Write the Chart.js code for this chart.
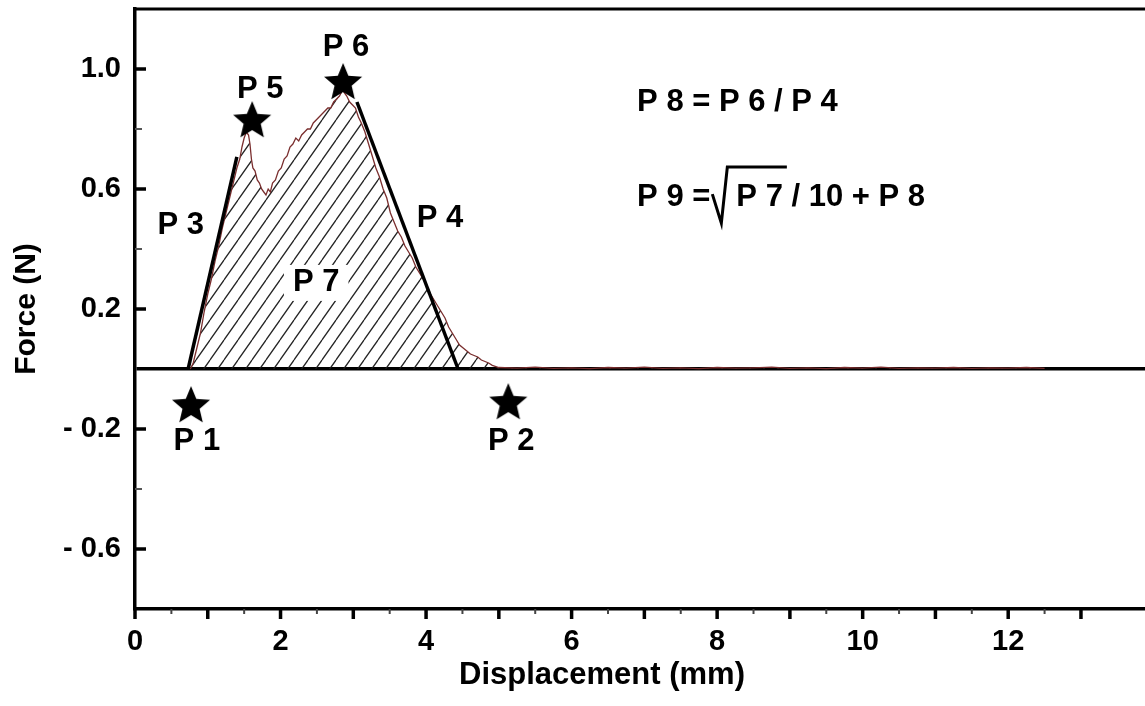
<!DOCTYPE html>
<html>
<head>
<meta charset="utf-8">
<script src="https://cdn.jsdelivr.net/npm/chart.js@4.4.0/dist/chart.umd.min.js"></script>
<style>
html, body { margin: 0; padding: 0; background: #fff; overflow: hidden; }
canvas { display: block; }
</style>
</head>
<body>
<canvas id="forceChart" width="1145" height="706"></canvas>
<script>
// measured force-displacement curve
var displacement = [0.76, 0.80, 0.85, 0.90, 0.95, 1.00, 1.05, 1.10, 1.15, 1.20, 1.25, 1.30, 1.35, 1.40, 1.44, 1.47, 1.50, 1.53, 1.56, 1.58,
  1.60, 1.62, 1.65, 1.68, 1.71, 1.74, 1.77, 1.80, 1.83, 1.86, 1.89, 1.93, 1.97, 2.01, 2.05, 2.09, 2.13, 2.17, 2.21, 2.25,
  2.29, 2.33, 2.37, 2.41, 2.45, 2.49, 2.53, 2.57, 2.61, 2.65, 2.69, 2.73, 2.77, 2.81, 2.85, 2.88, 2.91, 2.95, 2.99, 3.03,
  3.07, 3.11, 3.16, 3.21, 3.26, 3.31, 3.36, 3.41, 3.46, 3.51, 3.56, 3.61, 3.66, 3.71, 3.76, 3.81, 3.86, 3.91, 3.96, 4.01,
  4.06, 4.11, 4.16, 4.21, 4.26, 4.31, 4.36, 4.41, 4.46, 4.51, 4.56, 4.61, 4.66, 4.71, 4.76, 4.81, 4.86, 4.91, 4.96, 5.00,
  5.25, 5.50, 5.75, 6.00, 6.25, 6.50, 6.75, 7.00, 7.25, 7.50, 7.75, 8.00, 8.25, 8.50, 8.75, 9.00, 9.25, 9.50, 9.75, 10.00,
  10.25, 10.50, 10.75, 11.00, 11.25, 11.50, 11.75, 12.00, 12.25, 12.50];
var force = [0.00, 0.02, 0.07, 0.12, 0.19, 0.25, 0.30, 0.36, 0.41, 0.47, 0.52, 0.57, 0.62, 0.67, 0.70, 0.74, 0.77, 0.79, 0.78, 0.75,
  0.70, 0.67, 0.66, 0.63, 0.62, 0.60, 0.59, 0.58, 0.60, 0.59, 0.62, 0.63, 0.66, 0.67, 0.70, 0.71, 0.74, 0.75, 0.77, 0.76,
  0.78, 0.79, 0.80, 0.80, 0.82, 0.83, 0.84, 0.85, 0.86, 0.87, 0.87, 0.89, 0.90, 0.91, 0.93, 0.92, 0.91, 0.89, 0.88, 0.87,
  0.84, 0.82, 0.79, 0.75, 0.71, 0.67, 0.64, 0.60, 0.57, 0.52, 0.49, 0.46, 0.44, 0.41, 0.39, 0.37, 0.34, 0.32, 0.30, 0.28,
  0.25, 0.23, 0.21, 0.19, 0.17, 0.14, 0.12, 0.10, 0.08, 0.07, 0.06, 0.05, 0.045, 0.04, 0.03, 0.025, 0.02, 0.012, 0.008, 0.005,
  0.003, 0.006, 0.002, 0.004, 0.001, 0.005, 0.003, 0.006, 0.002, 0.004, 0.001, 0.005, 0.003, 0.004, 0.006, 0.002, 0.004, 0.001, 0.005, 0.003,
  0.006, 0.002, 0.004, 0.003, 0.005, 0.002, 0.004, 0.003, 0.005, 0.002];

// tangent lines P3 and P4
var p3X = [0.73, 1.40];
var p3Y = [0.00, 0.707];
var p4X = [3.05, 4.44];
var p4Y = [0.89, 0.00];

// star markers P1, P2, P5, P6
var starX = [0.77, 5.13, 1.61, 2.86];
var starY = [-0.117, -0.107, 0.833, 0.96];

// point labels
var labelText = ['P 1', 'P 2', 'P 3', 'P 4', 'P 5', 'P 6', 'P 7'];
var labelX = [0.85, 5.17, 0.63, 4.19, 1.72, 2.90, 2.49];
var labelY = [-0.243, -0.243, 0.477, 0.503, 0.933, 1.073, 0.287];

var xTickLabels = [0, 2, 4, 6, 8, 10, 12];
var yTickLabels = [1.0, 0.6, 0.2, -0.2, -0.6];

var FAMILY = '"Liberation Sans", Arial, sans-serif';
var FONT = 'bold 31px ' + FAMILY;

function toPoints(xs, ys) {
  return xs.map(function(x, i) { return { x: x, y: ys[i] }; });
}

function makeHatch() {
  var w = 14, h = 20;
  var c = document.createElement('canvas');
  c.width = w; c.height = h;
  var g = c.getContext('2d');
  g.strokeStyle = 'rgba(25,25,25,0.95)';
  g.lineWidth = 1.3;
  g.beginPath();
  g.moveTo(0, h); g.lineTo(w, 0);
  g.moveTo(-w, h); g.lineTo(0, 0);
  g.moveTo(w, h); g.lineTo(2 * w, 0);
  g.stroke();
  return g.createPattern(c, 'repeat');
}

function makeStar(r) {
  var s = Math.ceil(r * 2 + 2);
  var c = document.createElement('canvas');
  c.width = s; c.height = s;
  var g = c.getContext('2d');
  var cx = s / 2, cy = s / 2 + r * 0.1;
  g.beginPath();
  for (var i = 0; i < 10; i++) {
    var rad = i % 2 === 0 ? r : r * 0.45;
    var a = -Math.PI / 2 + i * Math.PI / 5;
    var px = cx + rad * Math.cos(a), py = cy + rad * Math.sin(a);
    if (i === 0) g.moveTo(px, py); else g.lineTo(px, py);
  }
  g.closePath();
  g.fillStyle = '#000';
  g.fill();
  return c;
}

var extras = {
  id: 'extras',
  afterDatasetsDraw: function(chart) {
    var ctx = chart.ctx, xs = chart.scales.x, ys = chart.scales.y, area = chart.chartArea;
    ctx.save();
    ctx.strokeStyle = '#000';
    ctx.lineCap = 'butt';
    // x ticks, outside
    xs.ticks.forEach(function(t) {
      var v = t.value;
      if (Math.abs(v * 2 - Math.round(v * 2)) > 1e-6) return;
      var major = Math.abs(v - Math.round(v)) < 1e-6;
      var px = xs.getPixelForValue(v);
      ctx.lineWidth = major ? 3.5 : 2;
      ctx.strokeStyle = major ? '#000' : '#444';
      ctx.beginPath(); ctx.moveTo(px, area.bottom); ctx.lineTo(px, area.bottom + (major ? 10 : 5)); ctx.stroke();
    });
    // y ticks, inside
    ys.ticks.forEach(function(t) {
      var v = Math.round(t.value * 10) / 10;
      if (v <= ys.min || v >= ys.max || v === 0) return;
      var major = yTickLabels.indexOf(v) >= 0;
      var py = ys.getPixelForValue(v);
      ctx.lineWidth = major ? 3.5 : 2;
      ctx.strokeStyle = major ? '#000' : '#555';
      ctx.beginPath(); ctx.moveTo(area.left, py); ctx.lineTo(area.left + (major ? 11 : 7), py); ctx.stroke();
    });
    // top frame
    ctx.strokeStyle = '#000';
    ctx.lineWidth = 3;
    ctx.beginPath(); ctx.moveTo(area.left, area.top); ctx.lineTo(area.right, area.top); ctx.stroke();

    // point labels
    ctx.font = FONT;
    ctx.textAlign = 'center';
    ctx.textBaseline = 'middle';
    labelText.forEach(function(txt, i) {
      var px = xs.getPixelForValue(labelX[i]), py = ys.getPixelForValue(labelY[i]);
      if (txt === 'P 7') {
        var w = ctx.measureText(txt).width;
        ctx.fillStyle = '#fff';
        ctx.fillRect(px - w / 2 - 9, py - 18, w + 18, 36);
      }
      ctx.fillStyle = '#000';
      ctx.fillText(txt, px, py);
    });

    // formulas
    ctx.textAlign = 'left';
    var fx = xs.getPixelForValue(6.9);
    var f1y = ys.getPixelForValue(0.887);
    var f2y = ys.getPixelForValue(0.573);
    ctx.fillText('P 8 = P 6 / P 4', fx, f1y);
    var head = 'P 9 =';
    ctx.fillText(head, fx, f2y);
    var rx = fx + ctx.measureText(head).width + 2;
    var overW = ctx.measureText('P 7').width + 6;
    ctx.lineWidth = 3;
    ctx.lineJoin = 'miter';
    ctx.beginPath();
    ctx.moveTo(rx, f2y - 3);
    ctx.lineTo(rx + 9, f2y + 26);
    ctx.lineTo(rx + 15, f2y - 30);
    ctx.lineTo(rx + 22 + overW, f2y - 30);
    ctx.stroke();
    ctx.fillText('P 7 / 10 + P 8', rx + 24, f2y);

    // x axis title
    ctx.textAlign = 'center';
    ctx.textBaseline = 'alphabetic';
    ctx.fillText('Displacement (mm)', 602, 684);
    ctx.restore();
  }
};

var ctx = document.getElementById('forceChart');
new Chart(ctx, {
  type: 'line',
  data: {
    datasets: [{
      label: 'stars',
      data: toPoints(starX, starY),
      showLine: false,
      pointStyle: makeStar(20),
      pointRadius: 20,
      order: 0
    }, {
      label: 'P3',
      data: toPoints(p3X, p3Y),
      borderColor: '#000',
      borderWidth: 3.5,
      pointRadius: 0,
      fill: false,
      order: 1
    }, {
      label: 'P4',
      data: toPoints(p4X, p4Y),
      borderColor: '#000',
      borderWidth: 3.5,
      pointRadius: 0,
      fill: false,
      order: 1
    }, {
      label: 'force',
      data: toPoints(displacement, force),
      borderColor: '#7a2e2e',
      borderWidth: 1.3,
      pointRadius: 0,
      tension: 0,
      fill: 'origin',
      backgroundColor: makeHatch(),
      order: 2
    }]
  },
  options: {
    responsive: false,
    animation: false,
    layout: { autoPadding: false, padding: { top: 9, right: 0, left: 0, bottom: 0 } },
    plugins: {
      legend: { display: false },
      tooltip: { enabled: false }
    },
    scales: {
      x: {
        type: 'linear',
        min: 0,
        max: 13.88,
        afterFit: function(scale) {
          scale.height = 97;
          scale.paddingLeft = 0;
          scale.paddingRight = 0;
        },
        border: { color: '#000', width: 3.5 },
        grid: { display: true, drawOnChartArea: false, drawTicks: false },
        ticks: {
          stepSize: 0.5,
          autoSkip: false,
          maxRotation: 0,
          padding: 16,
          color: '#000',
          font: { family: FAMILY, size: 29, weight: 'bold' },
          callback: function(v) { return xTickLabels.indexOf(v) >= 0 ? String(v) : ''; }
        }
      },
      y: {
        min: -0.8,
        max: 1.2,
        afterFit: function(scale) {
          scale.width = 135;
          scale.paddingTop = 0;
          scale.paddingBottom = 0;
        },
        border: { color: '#000', width: 3.5 },
        grid: {
          drawTicks: false,
          color: function(c) { return c.tick && Math.abs(c.tick.value) < 1e-9 ? '#000' : 'rgba(0,0,0,0)'; },
          lineWidth: function(c) { return c.tick && Math.abs(c.tick.value) < 1e-9 ? 3.5 : 0; }
        },
        title: {
          display: true,
          text: 'Force (N)',
          color: '#000',
          padding: { top: 9, bottom: 0 },
          font: { family: FAMILY, size: 30, weight: 'bold' }
        },
        ticks: {
          stepSize: 0.2,
          autoSkip: false,
          padding: 14,
          color: '#000',
          font: { family: FAMILY, size: 29, weight: 'bold' },
          callback: function(v) {
            var r = Math.round(v * 10) / 10;
            if (yTickLabels.indexOf(r) < 0) return '';
            return r < 0 ? '- ' + Math.abs(r).toFixed(1) : r.toFixed(1);
          }
        }
      }
    }
  },
  plugins: [extras]
});
</script>
</body>
</html>
